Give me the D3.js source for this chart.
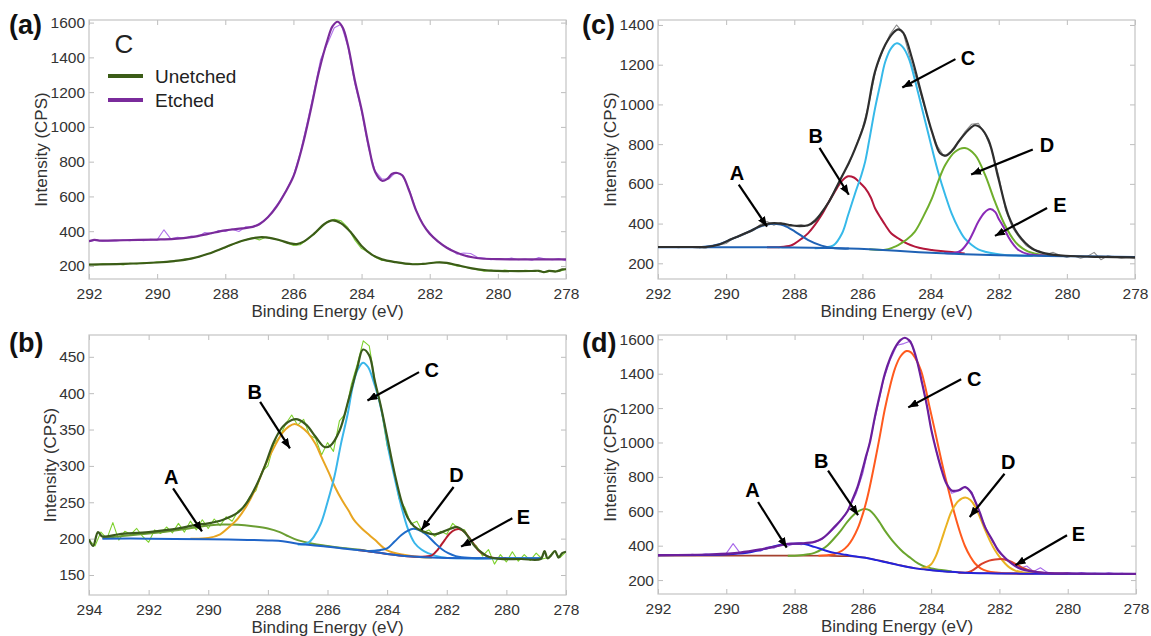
<!DOCTYPE html>
<html>
<head>
<meta charset="utf-8">
<script src="https://cdn.jsdelivr.net/npm/d3@7"></script>
<style>
  body { margin: 0; background: #fff; }
  text { font-family: "Liberation Sans", Arial, sans-serif; }
</style>
</head>
<body>
<script>
// ---------------- data ----------------
// energy grids of the raw scans (eV), 0.2 eV steps
const grid292 = d3.range(71).map(i => +(292 - i * 0.2).toFixed(1));
const grid294 = d3.range(81).map(i => +(294 - i * 0.2).toFixed(1));

const xTicks14 = [292, 290, 288, 286, 284, 282, 280, 278];
const xTicks16 = [294, 292, 290, 288, 286, 284, 282, 280, 278];
const yTicksA = [200, 400, 600, 800, 1000, 1200, 1400, 1600];
const yTicksB = [150, 200, 250, 300, 350, 400, 450];
const yTicksC = [200, 400, 600, 800, 1000, 1200, 1400];
const yTicksD = [200, 400, 600, 800, 1000, 1200, 1400, 1600];

// (a) C 1s, unetched vs etched
const aEtchedRaw = [340,350,343,346,344,350,346,352,345,354,
  350,408,356,365,358,372,368,392,386,404,
  398,412,398,426,422,445,470,520,575,640,
  720,850,1020,1200,1390,1480,1570,1590,1460,1250,
  1090,880,745,700,700,738,722,640,520,440,
  392,345,318,298,268,275,272,250,245,236,
  242,238,245,236,240,233,248,240,236,242,230];
const aUnetchedRaw = [210,206,212,209,214,206,216,212,220,216,
  224,221,228,230,238,244,250,264,278,292,
  305,322,338,350,362,350,366,358,346,335,
  318,322,352,380,418,456,468,460,420,350,
  300,280,250,232,230,222,214,208,212,210,
  216,222,220,210,200,194,186,178,170,176,
  168,176,172,170,175,172,174,163,174,168,182];
const aEtchedFit = [[292,342],[291.85,350],[291.7,346],[291,348],[290,352],[289.5,356],[289,366],[288.5,385],[288,405],
  [287.5,416],[287.2,425],[287,440],[286.75,480],[286.5,540],[286.25,620],[286,715],[285.75,880],
  [285.5,1090],[285.25,1320],[285,1500],[284.85,1580],[284.7,1605],[284.55,1570],[284.4,1470],
  [284.2,1270],[284,1100],[283.8,900],[283.6,740],[283.4,690],[283.25,700],[283.1,730],[282.95,735],
  [282.8,720],[282.6,630],[282.4,520],[282.2,440],[282,385],[281.75,340],[281.5,305],[281.25,280],
  [281,262],[280.75,250],[280.5,243],[280,239],[279,238],[278,238]];
const aUnetchedFit = [[292,208],[291,212],[290,220],[289.5,228],[289,242],[288.5,270],[288,308],[287.5,345],
  [287,365],[286.7,362],[286.4,348],[286.1,330],[285.9,326],[285.7,340],[285.4,385],[285.1,440],
  [284.85,462],[284.6,445],[284.3,390],[284,315],[283.7,265],[283.4,238],[283,222],[282.5,210],
  [282.2,212],[281.8,220],[281.5,218],[281.2,205],[280.8,188],[280.4,176],[280,172],[279,171],
  [278.8,172],[278.65,164],[278.5,172],[278.3,168],[278.1,180],[278,181]];

// (b) unetched fit
const bRaw = [198,190,209,200,222,198,210,206,214,203,
  195,212,207,216,208,221,209,224,212,226,
  214,227,218,230,224,238,244,258,266,292,
  300,330,340,358,370,356,364,342,338,315,
  332,320,362,372,412,440,472,465,415,378,
  328,300,255,242,220,224,208,212,203,210,
  206,221,213,212,196,190,176,185,165,178,
  168,182,169,178,170,180,172,174,183,174,182];
const bFit = [[294,199],[293.86,190],[293.7,209],[293.55,203],[293,206],[292,209],[291,214],[290.4,219],
  [290,221],[289.5,226],[289,236],[288.7,250],[288.4,272],[288.1,300],[287.8,333],[287.5,354],
  [287.2,363],[287,364],[286.7,356],[286.4,340],[286.1,326],[285.9,328],[285.6,348],[285.3,390],
  [285,435],[284.81,460],[284.6,452],[284.42,418],[284.2,380],[284,340],[283.75,290],[283.5,249],
  [283.3,228],[283.1,217],[282.8,210],[282.4,206],[282.1,210],[281.85,214],[281.65,216],[281.45,211],
  [281.25,201],[281.05,189],[280.8,180],[280.6,175],[280.2,172],[279.5,172],[278.85,172],[278.72,183],
  [278.62,173],[278.5,177],[278.37,183],[278.25,174],[278.13,180],[278,182]];
const bBackground = [[293.55,200],[292,200],[290,199],[289,198.5],[288,197.5],[287.5,196.5],[287,193],
  [286.5,191],[286,189],[285.5,186.5],[285,184.5],[284.5,182],[284,179],[283.5,176.5],[283,175],
  [282.5,174],[282,173.5],[281,173],[280,173],[278.8,173]];
const bPeakA = [[293.55,201],[293,203],[292,207],[291,212],[290.5,215],[290,218],[289.5,219.5],[289,219],
  [288.5,217],[288,214],[287.6,209],[287.3,203],[287,198],[286.5,193],[286,190],[285.5,187],
  [285,185],[284.5,182]];
const bPeakB = [[290.6,200],[290,201],[289.6,206],[289.3,216],[289,228],[288.7,246],[288.4,270],[288.1,300],
  [287.8,325],[287.5,346],[287.3,354],[287.1,357.5],[286.9,354],[286.65,345],[286.4,330],[286.2,312],
  [285.95,290],[285.75,271],[285.5,252],[285.3,239],[285.1,225],[284.85,214],[284.6,205],[284.4,198],
  [284,184],[283.4,177.5],[282.85,174.5],[282.5,174]];
const bPeakC = [[287,192],[286.66,194],[286.45,203],[286.22,221],[286,250],[285.77,285],[285.55,330],
  [285.32,372],[285.15,410],[284.99,432],[284.81,442],[284.64,436],[284.47,418],[284.3,395],[284.1,358],
  [283.97,326],[283.75,284],[283.52,244],[283.3,213],[283.08,194],[282.85,185],[282.63,180],
  [282.18,174.5],[281.5,173],[280,173],[278.8,173]];
const bPeakD = [[284.6,183],[284.3,184],[284,186.5],[283.75,196],[283.52,205],[283.3,211],[283.12,213.5],
  [282.95,212],[282.7,206],[282.4,194],[282.15,185],[281.95,180],[281.7,176],[281.5,174.4],[281,173],
  [280.5,173]];
const bPeakE = [[285,184.5],[284.5,182],[284,179],[283.5,176.5],[283,175],[282.7,175.5],[282.5,177],
  [282.3,185],[282.07,198],[281.9,207],[281.73,212],[281.56,213],[281.4,209],[281.28,203],[281.1,193],
  [280.95,184.4],[280.78,179],[280.61,175.2],[280.3,173],[280,173]];
// [label, text E, text I, tail E, tail I, head E, head I]
const bNotes = [['A',291.24,285,291.18,269,290.21,210],['B',288.44,402,288.26,388,287.26,324],
  ['C',282.5,432,282.93,429,284.66,390],['D',281.67,287,281.77,271,282.85,212],
  ['E',279.43,230,279.8,228,281.52,189]];

// (c) etched fit
const cRaw = [283,280,284,279,282,280,283,276,290,292,
  300,325,335,350,365,395,410,392,405,385,
  390,395,388,420,455,510,570,640,700,785,
  880,1010,1180,1270,1350,1400,1360,1230,1120,1000,
  880,790,738,765,810,860,900,905,850,770,
  640,470,380,330,290,268,262,245,255,240,
  230,238,226,235,255,218,238,232,226,230,224];
const cFit = [[292,282],[291,282],[290.6,282],[290.2,295],[289.84,322],[289.35,358],[288.96,390],[288.7,401],
  [288.37,400],[288.1,392],[287.85,387],[287.6,392],[287.39,414],[287.2,455],[287,505],[286.8,570],
  [286.61,635],[286.4,705],[286.22,775],[285.93,910],[285.63,1165],[285.33,1300],[285.1,1360],
  [284.95,1378],[284.8,1360],[284.55,1235],[284.26,1048],[283.96,863],[283.72,754],[283.55,742],
  [283.35,770],[283.18,812],[282.89,871],[282.7,895],[282.55,885],[282.3,821],[282.01,628],
  [281.72,443],[281.42,343],[281.03,276],[280.64,250],[280.05,238],[279,232],[278,230]];
const cBackground = [[292,281],[289,281],[288.5,280.5],[288,279],[287,277],[286.4,275],[285.8,271],
  [285,263],[284,253],[283,246],[282,241],[281,238.5],[280,236],[279,234],[278,232]];
const cPeakA = [[290.8,281],[290.3,292],[289.84,322],[289.35,358],[288.96,388],[288.7,398],[288.52,398],
  [288.3,390],[287.98,360],[287.59,317],[287.2,289],[286.81,276],[286.4,274]];
const cPeakB = [[288.8,280.5],[288.4,282],[288.1,290],[287.98,300],[287.8,322],[287.59,352],[287.4,392],
  [287.2,443],[287,505],[286.81,561],[286.6,615],[286.42,638],[286.25,632],[286.1,610],[285.92,578],
  [285.75,530],[285.63,477],[285.45,425],[285.33,393],[285.15,350],[284.95,326],[284.7,300],
  [284.46,284],[284.2,273],[283.96,267],[283.47,258.6],[283,249]];
const cPeakC = [[287.4,276],[287.1,279],[286.85,290],[286.6,350],[286.42,443],[286.2,560],[286.03,645],
  [285.92,712],[285.8,820],[285.63,980],[285.48,1100],[285.33,1215],[285.15,1285],[284.99,1308],
  [284.82,1290],[284.64,1232],[284.5,1150],[284.35,1048],[284.15,910],[283.96,779],[283.77,655],
  [283.57,544],[283.38,450],[283.18,376],[283,325],[282.79,292],[282.6,270],[282.4,258.6],
  [282.1,248],[281.82,242],[281,238.5]];
const cPeakD = [[285.8,271],[285.33,268],[285.1,280],[284.95,292],[284.7,320],[284.46,360],[284.2,440],
  [283.96,527],[283.77,615],[283.57,695],[283.28,762],[282.99,780],[282.69,745],[282.4,645],
  [282.11,510],[281.82,393],[281.52,309],[281.3,275],[281.13,259],[280.74,242],[280.3,237]];
const cPeakE = [[283.6,252],[283.3,252],[283.1,265],[282.89,309],[282.75,355],[282.6,409],[282.42,455],
  [282.25,473],[282.1,458],[282.01,427],[281.85,380],[281.72,334],[281.55,290],[281.42,267],
  [281.13,245.5],[280.74,240],[280.3,237]];
const cNotes = [['A',289.68,655,289.63,596,288.8,385],['B',287.37,840,287.26,781,286.4,545],
  ['C',282.9,1236,283.27,1228,284.83,1085],['D',280.58,798,281.0,773,282.81,647],
  ['E',280.2,495,280.58,478,282.11,338]];

// (d) etched fit, second sample
const dRaw = [340,348,344,346,343,350,345,352,346,352,
  355,412,358,362,372,368,392,386,405,398,
  412,405,418,420,438,470,508,555,620,700,
  820,1000,1180,1360,1480,1565,1575,1590,1465,1290,
  1080,910,790,705,718,745,710,600,505,420,
  372,318,298,268,282,250,272,245,240,236,
  242,235,244,236,240,234,242,236,240,232,238];
const dFit = [[292,345],[290.4,350],[289.6,360],[289,378],[288.5,398],[288.2,410],[287.81,413],[287.42,422],
  [287.2,440],[287.03,468],[286.85,505],[286.64,550],[286.45,600],[286.3,670],[286.15,745],
  [286,850],[285.9,925],[285.8,995],[285.65,1146],[285.5,1280],[285.36,1397],[285.2,1490],[285.06,1551],
  [284.9,1595],[284.77,1609],[284.65,1595],[284.57,1571],[284.42,1480],[284.28,1358],[284.12,1210],
  [283.99,1069],[283.84,945],[283.69,837],[283.55,760],[283.4,721],[283.2,722],[283.01,740],
  [282.85,715],[282.72,663],[282.57,590],[282.42,508],[282.2,430],[282.04,373],[281.84,330],
  [281.64,296],[281.45,272],[281.25,258],[280.67,242],[279.69,238],[278,236]];
const dBackground = [[292,342],[288,342],[287,341],[286.5,339],[286,333],[285.5,313],[285,290],[284.5,270],
  [284,258],[283.5,249],[283,243],[282.5,240],[282,238.5],[281,237],[280,236.5],[278,236]];
const dPeakA = [[292,345],[290.5,347],[289.8,352],[289.3,362],[288.8,385],[288.4,405],[288.1,411],
  [287.8,412],[287.42,393],[287.1,372],[286.83,358],[286.5,347],[286.25,338],[285.94,330],[285.6,316],
  [285.36,305],[284.96,287],[284.47,268],[283.99,257.6],[283.5,249],[283.01,242],[282.5,239.5],
  [282.04,238.5],[281,237],[280,237],[278,236]];
const dPeakB = [[288.2,342],[287.9,343],[287.6,350],[287.42,358],[287.2,378],[287.03,403],[286.85,440],
  [286.64,489],[286.45,540],[286.25,583],[286.1,604],[285.94,613],[285.8,605],[285.65,575],[285.5,533],
  [285.36,489],[285.2,446],[285.06,412],[284.9,378],[284.77,354],[284.6,328],[284.47,308],[284.3,288],
  [284.18,278],[283.99,268],[283.7,258],[283.4,250]];
const dPeakC = [[287.3,342],[287,346],[286.83,352],[286.6,372],[286.44,400],[286.3,440],[286.15,500],
  [286,585],[285.9,655],[285.8,740],[285.65,885],[285.5,1040],[285.36,1190],[285.2,1330],[285.06,1430],
  [284.9,1500],[284.72,1532],[284.6,1525],[284.47,1493],[284.3,1420],[284.18,1330],[284.05,1210],
  [283.89,1069],[283.75,940],[283.6,810],[283.45,690],[283.3,575],[283.15,475],[283.01,398],
  [282.85,335],[282.72,298],[282.55,268],[282.35,252],[282.1,244],[281.7,239],[281,237]];
const dPeakD = [[284.3,268],[284.15,273],[284,292],[283.85,345],[283.7,430],[283.55,520],[283.4,600],
  [283.2,660],[283.0,680],[282.85,665],[282.72,630],[282.57,565],[282.42,492],[282.27,425],
  [282.13,373],[281.98,330],[281.84,298],[281.7,272],[281.54,255],[281.3,244],[281,239]];
const dPeakE = [[283.2,243],[283,243],[282.85,250],[282.7,268],[282.52,294],[282.3,313],[282.13,320],
  [281.94,322],[281.8,317],[281.64,305],[281.5,290],[281.35,274],[281.06,253],[280.76,242],
  [280.4,238],[280,237]];
const dNotes = [['A',289.23,721,289.07,654,288.23,389],['B',287.22,895,287.02,837,286.14,577],
  ['C',282.74,1372,283.12,1368,284.67,1204],['D',281.74,886,281.85,818,282.87,567],
  ['E',279.69,470,280.02,461,281.53,287]];

// ---------------- drawing ----------------
const FONT = '"Liberation Sans", Arial, sans-serif';
const svg = d3.select('body').append('svg').attr('width', 1151).attr('height', 636);
const defs = svg.append('defs');

defs.append('marker')
  .attr('id', 'head')
  .attr('viewBox', '0 0 10 8')
  .attr('refX', 10).attr('refY', 4)
  .attr('markerUnits', 'userSpaceOnUse')
  .attr('markerWidth', 10).attr('markerHeight', 8)
  .attr('orient', 'auto')
  .append('path').attr('d', 'M0,0 L10,4 L0,8 Z').attr('fill', '#000');

function styleAxis(g) {
  g.select('.domain').remove();
  g.attr('font-family', FONT).attr('font-size', 15.5).attr('color', '#333');
  g.selectAll('line').attr('stroke', '#bdbdbd');
}

function drawPanel(p) {
  const x = d3.scaleLinear().domain(p.xDomain).range([p.left, p.right]);
  const y = d3.scaleLinear().domain(p.yDomain).range([p.bottom, p.top]);
  const g = svg.append('g').attr('class', 'panel-' + p.id);

  defs.append('clipPath').attr('id', 'clip-' + p.id)
    .append('rect')
    .attr('x', p.left).attr('y', p.top)
    .attr('width', p.right - p.left).attr('height', p.bottom - p.top);

  // axes with inward ticks on all four sides
  g.append('g').attr('transform', `translate(0,${p.bottom})`)
    .call(d3.axisBottom(x).tickValues(p.xTicks).tickSize(-5).tickPadding(9).tickFormat(d3.format('d')))
    .call(styleAxis);
  g.append('g').attr('transform', `translate(0,${p.top})`)
    .call(d3.axisTop(x).tickValues(p.xTicks).tickSize(-5).tickFormat(''))
    .call(styleAxis);
  g.append('g').attr('transform', `translate(${p.left},0)`)
    .call(d3.axisLeft(y).tickValues(p.yTicks).tickSize(-5).tickPadding(4).tickFormat(d3.format('d')))
    .call(styleAxis);
  g.append('g').attr('transform', `translate(${p.right},0)`)
    .call(d3.axisRight(y).tickValues(p.yTicks).tickSize(-5).tickFormat(''))
    .call(styleAxis);

  g.append('rect')
    .attr('x', p.left).attr('y', p.top)
    .attr('width', p.right - p.left).attr('height', p.bottom - p.top)
    .attr('fill', 'none').attr('stroke', '#c4c4c4').attr('stroke-width', 1.2);

  // axis titles
  g.append('text')
    .attr('x', (p.left + p.right) / 2).attr('y', p.bottom + 38)
    .attr('text-anchor', 'middle').attr('font-size', 17).attr('fill', '#333')
    .text('Binding Energy (eV)');
  g.append('text')
    .attr('transform', `translate(${p.left - p.yTitleGap},${(p.top + p.bottom) / 2}) rotate(-90)`)
    .attr('text-anchor', 'middle').attr('dominant-baseline', 'central')
    .attr('font-size', 17).attr('fill', '#333')
    .text('Intensity (CPS)');

  // panel letter
  g.append('text')
    .attr('x', p.labelX).attr('y', p.labelY)
    .attr('font-size', 27).attr('font-weight', 'bold').attr('fill', '#111')
    .text(p.label);

  // curves
  const plot = g.append('g').attr('clip-path', `url(#clip-${p.id})`);
  const smooth = d3.line().x(d => x(d[0])).y(d => y(d[1])).curve(d3.curveCatmullRom.alpha(0.5));
  const jagged = d3.line().x(d => x(d[0])).y(d => y(d[1]));

  plot.selectAll('path.series')
    .data(p.series)
    .join('path')
    .attr('class', 'series')
    .attr('fill', 'none')
    .attr('stroke', d => d.color)
    .attr('stroke-width', d => d.width)
    .attr('stroke-linejoin', 'round')
    .attr('d', d => d.raw ? jagged(d.data) : smooth(d.data));

  // annotations
  if (p.notes) {
    const ann = g.append('g');
    ann.selectAll('line')
      .data(p.notes)
      .join('line')
      .attr('x1', d => x(d[3])).attr('y1', d => y(d[4]))
      .attr('x2', d => x(d[5])).attr('y2', d => y(d[6]))
      .attr('stroke', '#000').attr('stroke-width', 2.2)
      .attr('marker-end', 'url(#head)');
    ann.selectAll('text')
      .data(p.notes)
      .join('text')
      .attr('x', d => x(d[1])).attr('y', d => y(d[2]))
      .attr('text-anchor', 'middle').attr('dominant-baseline', 'central')
      .attr('font-size', 20).attr('font-weight', 'bold').attr('fill', '#000')
      .text(d => d[0]);
  }
  return { g, x, y };
}

const onGrid = (grid, vals) => grid.map((e, i) => [e, vals[i]]);

// (a)
const pa = drawPanel({
  id: 'a', label: '(a)', labelX: 9, labelY: 34,
  left: 89, right: 566, top: 20, bottom: 279, yTitleGap: 48,
  xDomain: [292, 278], yDomain: [125, 1615], xTicks: xTicks14, yTicks: yTicksA,
  series: [
    { data: onGrid(grid292, aUnetchedRaw), color: '#7fd13b', width: 1.1, raw: true },
    { data: onGrid(grid292, aEtchedRaw), color: '#b274ea', width: 1.1, raw: true },
    { data: aUnetchedFit, color: '#3b5c17', width: 2.2 },
    { data: aEtchedFit, color: '#7a2b9b', width: 2.2 }
  ]
});

// legend of (a)
const leg = pa.g.append('g');
leg.append('text').attr('x', 124).attr('y', 53).attr('text-anchor', 'middle')
  .attr('font-size', 26).attr('fill', '#222').text('C');
const legendItems = [['Unetched', '#3b5c17'], ['Etched', '#7a2b9b']];
legendItems.forEach((it, i) => {
  const yy = 76 + i * 24;
  leg.append('line').attr('x1', 108).attr('x2', 143).attr('y1', yy).attr('y2', yy)
    .attr('stroke', it[1]).attr('stroke-width', 4);
  leg.append('text').attr('x', 155).attr('y', yy).attr('dominant-baseline', 'central')
    .attr('font-size', 19).attr('fill', '#222').text(it[0]);
});

// (b)
drawPanel({
  id: 'b', label: '(b)', labelX: 9, labelY: 352,
  left: 89, right: 566, top: 335, bottom: 595, yTitleGap: 39,
  xDomain: [294, 278], yDomain: [122.5, 480], xTicks: xTicks16, yTicks: yTicksB,
  notes: bNotes,
  series: [
    { data: onGrid(grid294, bRaw), color: '#7dd12c', width: 1.1, raw: true },
    { data: bPeakA, color: '#6b9e33', width: 2 },
    { data: bPeakB, color: '#e8a521', width: 2 },
    { data: bPeakC, color: '#3ab6ea', width: 2 },
    { data: bPeakE, color: '#b51d2e', width: 2 },
    { data: bPeakD, color: '#1f6bc9', width: 2 },
    { data: bBackground, color: '#1f64c8', width: 2 },
    { data: bFit, color: '#3a5a1c', width: 2.2 }
  ]
});

// (c)
drawPanel({
  id: 'c', label: '(c)', labelX: 582, labelY: 34,
  left: 658, right: 1135, top: 20, bottom: 279, yTitleGap: 48,
  xDomain: [292, 278], yDomain: [121, 1425], xTicks: xTicks14, yTicks: yTicksC,
  notes: cNotes,
  series: [
    { data: onGrid(grid292, cRaw), color: '#8d8d8d', width: 1.1, raw: true },
    { data: cPeakB, color: '#b3173b', width: 2 },
    { data: cPeakC, color: '#36b9e9', width: 2 },
    { data: cPeakD, color: '#6fae2c', width: 2 },
    { data: cPeakE, color: '#8a2ab7', width: 2 },
    { data: cBackground, color: '#1f62b5', width: 2 },
    { data: cPeakA, color: '#1f62b5', width: 2 },
    { data: cFit, color: '#2e2e2e', width: 2.2 }
  ]
});

// (d)
drawPanel({
  id: 'd', label: '(d)', labelX: 582, labelY: 352,
  left: 658, right: 1136, top: 335, bottom: 594, yTitleGap: 48,
  xDomain: [292, 278], yDomain: [119, 1625], xTicks: xTicks14, yTicks: yTicksD,
  notes: dNotes,
  series: [
    { data: onGrid(grid292, dRaw), color: '#a768ea', width: 1.1, raw: true },
    { data: dBackground, color: '#a4412f', width: 1.6 },
    { data: dPeakB, color: '#6aa52e', width: 2 },
    { data: dPeakC, color: '#ff5a1e', width: 2 },
    { data: dPeakD, color: '#eab222', width: 2 },
    { data: dPeakE, color: '#d9412b', width: 2 },
    { data: dPeakA, color: '#2323dc', width: 2 },
    { data: dFit, color: '#6b1f9c', width: 2.2 }
  ]
});
</script>
</body>
</html>
